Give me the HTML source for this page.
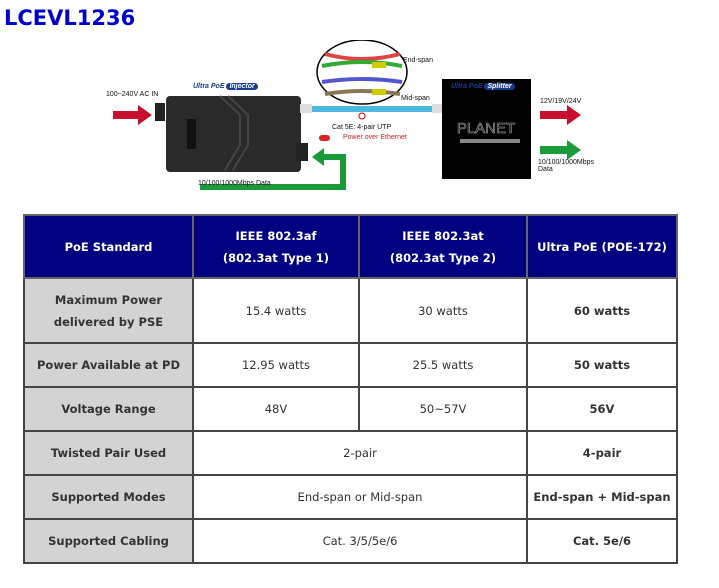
<!DOCTYPE html>
<html><head><style>
body{margin:0;width:719px;height:588px;background:#fff;position:relative;overflow:hidden;font-family:"DejaVu Sans","Liberation Sans",sans-serif}
.a{position:absolute}
.t{font-size:7px;font-family:"Liberation Sans",sans-serif;color:#111;white-space:nowrap}
table{position:absolute;left:23px;top:214px;border-collapse:collapse;width:655px}
td{border:2px solid #444;text-align:center;font-size:11.5px;color:#333;line-height:22px;padding:0}
tr.h td{background:#000080;color:#fff;font-weight:bold;height:61px;border-color:#666}
td.l{background:#d3d3d3;font-weight:bold}
td.b{font-weight:bold}
</style></head><body>
<div class="a" style="left:4px;top:6px;font-size:21px;font-weight:bold;color:#0000cc">LCEVL1236</div>

<svg class="a" style="left:0;top:40px" width="719" height="170">
<polygon points="113,71 138,71 138,65 152,75 138,85 138,79 113,79" fill="#c8102e"/>
<rect x="155" y="63" width="10" height="18" fill="#222"/>
<rect x="166" y="56" width="135" height="76" rx="4" fill="#2a2a2a"/>
<rect x="296" y="103" width="12" height="18" fill="#222"/>
<rect x="187" y="79" width="9" height="30" fill="#111"/>
<polyline points="220,56 240,75 240,105 225,130" stroke="#444" fill="none" stroke-width="2"/>
<polyline points="228,56 248,75 248,105 233,130" stroke="#444" fill="none" stroke-width="2"/>
<rect x="305" y="66" width="135" height="6" fill="#4fb8e0"/>
<rect x="300" y="64" width="12" height="9" fill="#ddd"/>
<rect x="432" y="64" width="12" height="9" fill="#ddd"/>
<ellipse cx="362" cy="32" rx="45" ry="32" fill="#fff" stroke="#000" stroke-width="1.5"/>
<path d="M325,14 Q362,24 400,14" stroke="#d44" stroke-width="4" fill="none"/>
<path d="M322,26 Q362,18 402,26" stroke="#3a3" stroke-width="4" fill="none"/>
<path d="M322,42 Q362,36 402,42" stroke="#55c" stroke-width="4" fill="none"/>
<path d="M325,54 Q362,48 400,54" stroke="#875" stroke-width="4" fill="none"/>
<rect x="372" y="22" width="14" height="6" fill="#cc0"/>
<rect x="372" y="49" width="14" height="6" fill="#cc0"/>
<circle cx="362" cy="76" r="3" fill="none" stroke="#c00"/>
<rect x="442" y="39" width="89" height="100" fill="#000"/>
<text x="486" y="93" text-anchor="middle" font-family="Liberation Sans" font-size="15" fill="none" stroke="#aaa" stroke-width="0.6">PLANET</text>
<rect x="460" y="99" width="60" height="4" fill="#888"/>
<polygon points="540,71 567,71 567,65 581,75 567,85 567,79 540,79" fill="#c8102e"/>
<polygon points="540,106 567,106 567,100 581,110 567,120 567,114 540,114" fill="#1a9a3a"/>
<polyline points="200,147 343,147 343,117 322,117" stroke="#1a9a3a" stroke-width="6" fill="none"/>
<polygon points="312,117 324,108 324,126" fill="#1a9a3a"/>
<rect x="319" y="95" width="11" height="6" rx="3" fill="#d22"/>
</svg>
<div class="a t" style="left:106px;top:91px">100~240V AC IN</div>
<div class="a t" style="left:193px;top:83px;color:#1a3c8c;font-style:italic;font-weight:bold">Ultra PoE <span style="background:#1a3c8c;color:#fff;border-radius:6px;padding:0 3px">Injector</span></div>
<div class="a t" style="left:451px;top:83px;color:#1a3c8c;font-style:italic;font-weight:bold">Ultra PoE <span style="background:#1a3c8c;color:#fff;border-radius:6px;padding:0 3px">Splitter</span></div>
<div class="a t" style="left:403px;top:57px">End-span</div>
<div class="a t" style="left:401px;top:95px">Mid-span</div>
<div class="a t" style="left:332px;top:124px">Cat 5E: 4-pair UTP</div>
<div class="a t" style="left:343px;top:134px;color:#c22">Power over Ethernet</div>
<div class="a t" style="left:198px;top:180px">10/100/1000Mbps Data</div>
<div class="a t" style="left:540px;top:98px">12V/19V/24V</div>
<div class="a t" style="left:538px;top:159px">10/100/1000Mbps<br>Data</div>

<table>
<tr class="h"><td style="width:167px">PoE Standard</td><td style="width:164px">IEEE 802.3af<br>(802.3at Type 1)</td><td style="width:166px">IEEE 802.3at<br>(802.3at Type 2)</td><td>Ultra PoE (POE-172)</td></tr>
<tr style="height:65px"><td class="l">Maximum Power<br>delivered by PSE</td><td>15.4 watts</td><td>30 watts</td><td class="b">60 watts</td></tr>
<tr style="height:44px"><td class="l">Power Available at PD</td><td>12.95 watts</td><td>25.5 watts</td><td class="b">50 watts</td></tr>
<tr style="height:44px"><td class="l">Voltage Range</td><td>48V</td><td>50~57V</td><td class="b">56V</td></tr>
<tr style="height:44px"><td class="l">Twisted Pair Used</td><td colspan="2">2-pair</td><td class="b">4-pair</td></tr>
<tr style="height:44px"><td class="l">Supported Modes</td><td colspan="2">End-span or Mid-span</td><td class="b">End-span + Mid-span</td></tr>
<tr style="height:44px"><td class="l">Supported Cabling</td><td colspan="2">Cat. 3/5/5e/6</td><td class="b">Cat. 5e/6</td></tr>
</table>
</body></html>
